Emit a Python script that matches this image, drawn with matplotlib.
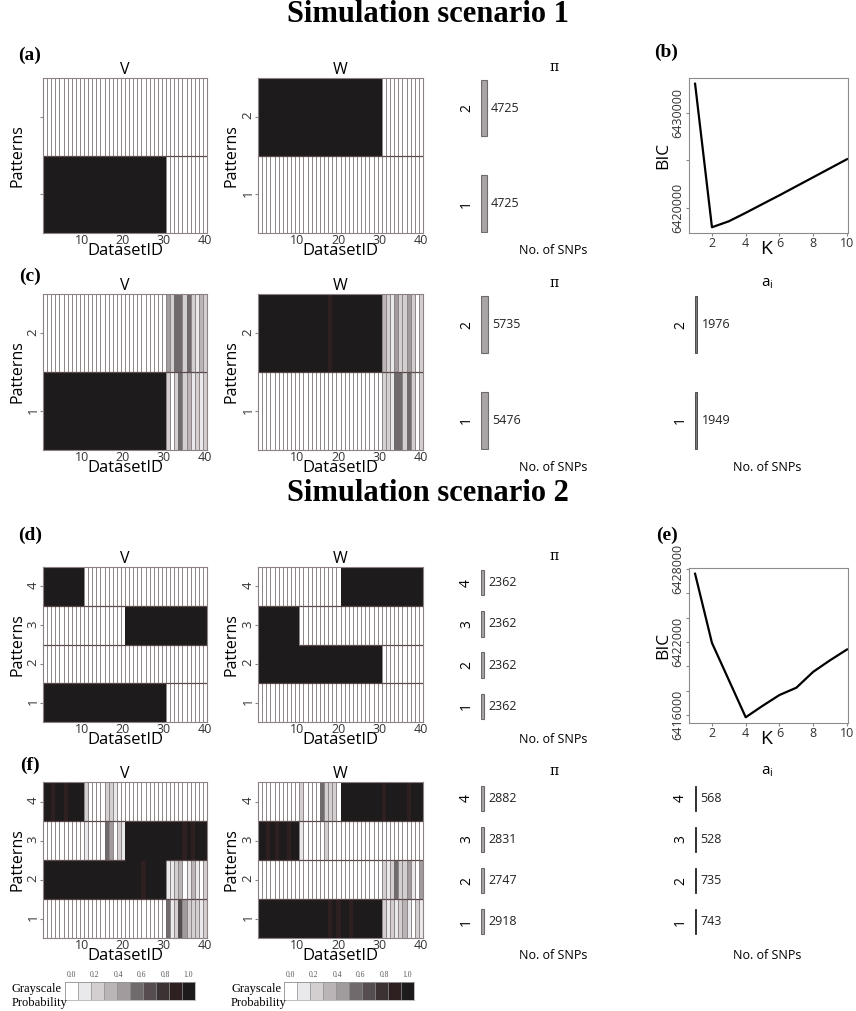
import numpy as np
import matplotlib.pyplot as plt
from matplotlib.colors import ListedColormap, BoundaryNorm, to_rgba

plt.rcParams['font.family'] = ['Open Sans', 'DejaVu Sans']

W_PX, H_PX = 856, 1011

# ---------------- data ----------------
dataset_ids = np.arange(1, 41)
K = np.arange(1, 11)

# BIC curves (scenario 1 -> panel b, scenario 2 -> panel e)
bic_s1 = [6433050, 6417930, 6418560, 6419450, 6420380, 6421300, 6422250, 6423200, 6424150, 6425100]
bic_s2 = [6427615, 6421926, 6418869, 6415810, 6416750, 6417640, 6418240, 6419550, 6420500, 6421385]
bic_s1_ticks = [6420000, 6425000, 6430000]
bic_s1_labels = ['6420000', '', '6430000']
bic_s2_ticks = [6416000, 6418000, 6420000, 6422000, 6424000, 6426000, 6428000]
bic_s2_labels = ['6416000', '', '', '6422000', '', '', '6428000']

# membership probabilities, one list per pattern (pattern 1 first)
V_a = [[1] * 30 + [0] * 10,
       [0] * 40]
W_a = [[0] * 40,
       [1] * 30 + [0] * 10]

V_c = [[1] * 30 + [0.25, 0.05, 0.3, 0.5, 0.2, 0.35, 0.1, 0.25, 0.1, 0.2],
       [0] * 30 + [0.45, 0.2, 0.55, 0.6, 0.25, 0.55, 0.3, 0.15, 0.35, 0.2]]
W_c = [[0] * 30 + [0.3, 0.2, 0.15, 0.6, 0.55, 0.3, 0.55, 0.2, 0.05, 0.3],
       [1] * 17 + [0.85] + [1] * 12 + [0.35, 0.25, 0.15, 0.45, 0.2, 0.3, 0.45, 0.2, 0.05, 0.25]]

V_d = [[1] * 30 + [0] * 10,
       [0] * 40,
       [0] * 20 + [1] * 20,
       [1] * 10 + [0] * 30]
W_d = [[0] * 40,
       [1] * 30 + [0] * 10,
       [1] * 10 + [0] * 30,
       [0] * 20 + [1] * 20]

V_f = [[0] * 30 + [0.5, 0.15, 0.2, 0.65, 0.45, 0.2, 0.3, 0.2, 0.15, 0.2],
       [1] * 24 + [0.85] + [1] * 5 + [0.15, 0.1, 0.25, 0.35, 0.05, 0.15, 0.35, 0.15, 0.05, 0.3],
       [0] * 10 + [0.15] + [0] * 4 + [0.55, 0.45, 0.05, 0.25, 0.1] + [1] * 14 + [0.85, 1, 0.85] + [1] * 3,
       [1, 1, 0.85, 1, 1, 0.85, 1, 1, 1, 1] + [0.25] + [0] * 4 + [0.3, 0.2, 0.15] + [0] * 22]
W_f = [[1] * 17 + [0.85, 1, 0.85, 1, 1, 0.85] + [1] * 7 + [0.2, 0.1, 0.3, 0.15, 0.2, 0.35, 0.15, 0, 0.2, 0.15],
       [0] * 30 + [0.25, 0.1, 0.2, 0.6, 0.25, 0.3, 0.45, 0.1, 0.05, 0.4],
       [1, 1, 0.85, 1, 0.85, 1, 1, 0.85, 1, 1] + [0.15] + [0] * 5 + [0.2] + [0] * 23,
       [0] * 10 + [0.2, 0, 0, 0, 0, 0.6, 0.2, 0.3, 0.2, 0.05] + [1] * 10 + [0.85] + [1] * 5 + [0.85] + [1] * 3]

# number of SNPs per pattern
pi_a = [4725, 4725]
pi_c = [5476, 5735]
ai_c = [1949, 1976]
pi_d = [2362, 2362, 2362, 2362]
pi_f = [2918, 2747, 2831, 2882]
ai_f = [743, 735, 528, 568]

gray_levels = ['#ffffff', '#e9e8ea', '#d3cfd1', '#bab4b6', '#a29b9e',
               '#706a6c', '#554d4f', '#3b3333', '#2e2020', '#1d1b1b']
bounds = np.linspace(0, 1, 11)
legend_ticks = ['0.0', '0.2', '0.4', '0.6', '0.8', '1.0']

cmap = ListedColormap(gray_levels)
norm = BoundaryNorm(bounds, cmap.N, clip=True)
grid_rgba = np.array(to_rgba('#8f8687'))
sep_color = '#5a4848'
spine_color = '#8c8283'

fig = plt.figure(figsize=(W_PX / 100, H_PX / 100), dpi=100)


def px_axes(x0, y0, x1, y1):
    return fig.add_axes([x0 / W_PX, 1 - y1 / H_PX, (x1 - x0) / W_PX, (y1 - y0) / H_PX])


def heatmap(ax, mat, title, show_ylabels=True):
    mat = np.asarray(mat, dtype=float)
    nrow = mat.shape[0]
    for r in range(nrow):
        fills = cmap(norm(mat[r]))
        edges = np.minimum(fills, grid_rgba)
        ax.bar(dataset_ids, 1, bottom=r + 0.5, width=1, color=fills,
               edgecolor=edges, linewidth=0.7)
    for r in range(nrow - 1):
        both_dark = (mat[r] >= 0.8) & (mat[r + 1] >= 0.8)
        xs = dataset_ids[~both_dark]
        ax.hlines(np.full(len(xs), r + 1.5), xs - 0.5, xs + 0.5, color=sep_color, lw=0.9)
    ax.set_xlim(0.5, 40.5)
    ax.set_ylim(0.5, nrow + 0.5)
    ax.set_xticks([10, 20, 30, 40])
    ax.tick_params(axis='x', length=0, pad=0.5, labelsize=9, colors='#333333')
    ax.set_yticks(np.arange(1, nrow + 1))
    if show_ylabels:
        ax.set_yticklabels([str(i) for i in range(1, nrow + 1)])
    else:
        ax.set_yticklabels([])
    ax.tick_params(axis='y', length=2, pad=0.5, labelsize=9.5, labelrotation=90,
                   color=spine_color, labelcolor='#333333')
    for s in ax.spines.values():
        s.set_color(spine_color)
        s.set_linewidth(0.8)
    ax.set_title(title, fontsize=11.5, pad=3)
    ax.set_xlabel('DatasetID', fontsize=12)
    ax.xaxis.set_label_coords(0.5, -0.118)
    ax.xaxis.label.set_verticalalignment('center')
    ax.set_ylabel('Patterns', fontsize=11.5)
    ax.yaxis.set_label_coords(-0.158, 0.5)
    ax.yaxis.label.set_verticalalignment('center')


def bar_panel(ax, values, title, fill, edge, lw, ylim, height, serif_title=True):
    pos = np.arange(1, len(values) + 1)
    ax.barh(pos, values, height=height, color=fill, edgecolor=edge, linewidth=lw)
    for p, v in zip(pos, values):
        ax.annotate(str(v), xy=(v, p), xytext=(3, 0), textcoords='offset points',
                    va='center', fontsize=9, color='#222222')
    ax.set_xlim(0, 121000)
    ax.set_ylim(*ylim)
    ax.set_yticks(pos)
    ax.set_yticklabels([str(p) for p in pos], rotation=90, va='center')
    ax.tick_params(axis='y', length=0, pad=5, labelsize=10)
    ax.set_xticks([])
    for s in ax.spines.values():
        s.set_visible(False)
    if serif_title:
        ax.set_title(title, fontsize=10, pad=5, family='DejaVu Serif')
    else:
        ax.set_title(title, fontsize=11, pad=5)
    ax.set_xlabel('No. of SNPs', fontsize=9, labelpad=8)


def bic_panel(ax, bic, ticks, labels):
    ax.plot(K, bic, color='black', lw=1.6)
    pad = 0.04 * (max(bic) - min(bic))
    ax.set_ylim(min(bic) - pad, max(bic) + pad)
    ax.set_xlim(0.64, 10.06)
    ax.set_xticks([2, 4, 6, 8, 10])
    ax.set_yticks(ticks)
    ax.set_yticklabels(labels)
    ax.tick_params(axis='y', labelrotation=90, length=2.5, pad=1, labelsize=9)
    ax.tick_params(axis='x', length=2, pad=1, labelsize=9)
    ax.tick_params(colors='#888888', labelcolor='#333333')
    for lab in ax.get_yticklabels():
        lab.set_va('center')
    for s in ax.spines.values():
        s.set_color('#8c8c8c')
        s.set_linewidth(0.8)
    ax.set_ylabel('BIC', fontsize=12.5, labelpad=0)
    ax.set_xlabel('K', fontsize=14)
    ax.xaxis.set_label_coords(0.485, -0.105)
    ax.xaxis.label.set_verticalalignment('center')


def gray_legend(x0):
    ax = px_axes(x0 + 53, 982, x0 + 183, 1000)
    centers = (bounds[:-1] + bounds[1:]) / 2
    ax.bar(np.arange(10), 1, width=1, align='edge', color=cmap(norm(centers)),
           edgecolor='#8a8a8a', linewidth=0.4)
    ax.set_xlim(0, 10)
    ax.set_ylim(0, 1)
    ax.set_xticks(np.linspace(0.5, 9.5, len(legend_ticks)))
    ax.set_xticklabels(legend_ticks)
    ax.xaxis.tick_top()
    ax.tick_params(axis='x', length=0, pad=2, labelsize=5.5, labelcolor='#555555')
    for lab in ax.get_xticklabels():
        lab.set_family('Liberation Serif')
    ax.set_yticks([])
    for s in ax.spines.values():
        s.set_color('#8a8a8a')
        s.set_linewidth(0.4)
    fig.text(x0 / W_PX, 1 - 989 / H_PX, 'Grayscale', family='Liberation Serif',
             fontsize=9, va='center')
    fig.text(x0 / W_PX, 1 - 1003 / H_PX, 'Probability', family='Liberation Serif',
             fontsize=9, va='center')


# ---------------- layout ----------------
title_kw = dict(ha='center', va='center', family='Liberation Serif', weight='bold', fontsize=22)
fig.text(0.5, 1 - 14 / H_PX, 'Simulation scenario 1', **title_kw)
fig.text(0.5, 1 - 494 / H_PX, 'Simulation scenario 2', **title_kw)

lab_kw = dict(ha='center', va='center', family='Liberation Serif', weight='bold', fontsize=14)
for txt, x, y in [('(a)', 30, 55), ('(b)', 666, 52), ('(c)', 30, 276),
                  ('(d)', 30, 535), ('(e)', 667, 535), ('(f)', 30, 765)]:
    fig.text(x / W_PX, 1 - y / H_PX, txt, **lab_kw)

rows_y = {'a': (78, 233), 'c': (294, 450), 'd': (567, 722), 'f': (782, 938)}
ylim2, h2 = (0.69, 2.32), 0.59
ylim4, h4 = (0.61, 4.39), 0.61

pi_fill, pi_edge = '#a9a5a7', '#6f6b6d'
ai_fill, ai_edge = '#7d797b', '#3e3a3c'

# scenario 1
y0, y1 = rows_y['a']
heatmap(px_axes(43, y0, 207, y1), V_a, 'V', show_ylabels=False)
heatmap(px_axes(258, y0, 423, y1), W_a, 'W')
bar_panel(px_axes(481, y0, 626, y1), pi_a, 'π', pi_fill, pi_edge, 0.8, ylim2, h2)
bic_panel(px_axes(689, 78, 848, 233), bic_s1, bic_s1_ticks, bic_s1_labels)

y0, y1 = rows_y['c']
heatmap(px_axes(43, y0, 207, y1), V_c, 'V')
heatmap(px_axes(258, y0, 423, y1), W_c, 'W')
bar_panel(px_axes(481, y0, 626, y1), pi_c, 'π', pi_fill, pi_edge, 0.8, ylim2, h2)
bar_panel(px_axes(695, y0, 840, y1), ai_c, r'$\mathregular{a_i}$', ai_fill, ai_edge, 0.6,
          ylim2, h2, serif_title=False)

# scenario 2
y0, y1 = rows_y['d']
heatmap(px_axes(43, y0, 207, y1), V_d, 'V')
heatmap(px_axes(258, y0, 423, y1), W_d, 'W')
bar_panel(px_axes(481, y0, 626, y1), pi_d, 'π', pi_fill, pi_edge, 0.8, ylim4, h4)
bic_panel(px_axes(689, 568, 848, 723), bic_s2, bic_s2_ticks, bic_s2_labels)

y0, y1 = rows_y['f']
heatmap(px_axes(43, y0, 207, y1), V_f, 'V')
heatmap(px_axes(258, y0, 423, y1), W_f, 'W')
bar_panel(px_axes(481, y0, 626, y1), pi_f, 'π', pi_fill, pi_edge, 0.8, ylim4, h4)
bar_panel(px_axes(695, y0, 840, y1), ai_f, r'$\mathregular{a_i}$', '#333333', '#222222', 0.6,
          ylim4, h4, serif_title=False)

gray_legend(12)
gray_legend(231)

fig.savefig('out.png', dpi=100)
